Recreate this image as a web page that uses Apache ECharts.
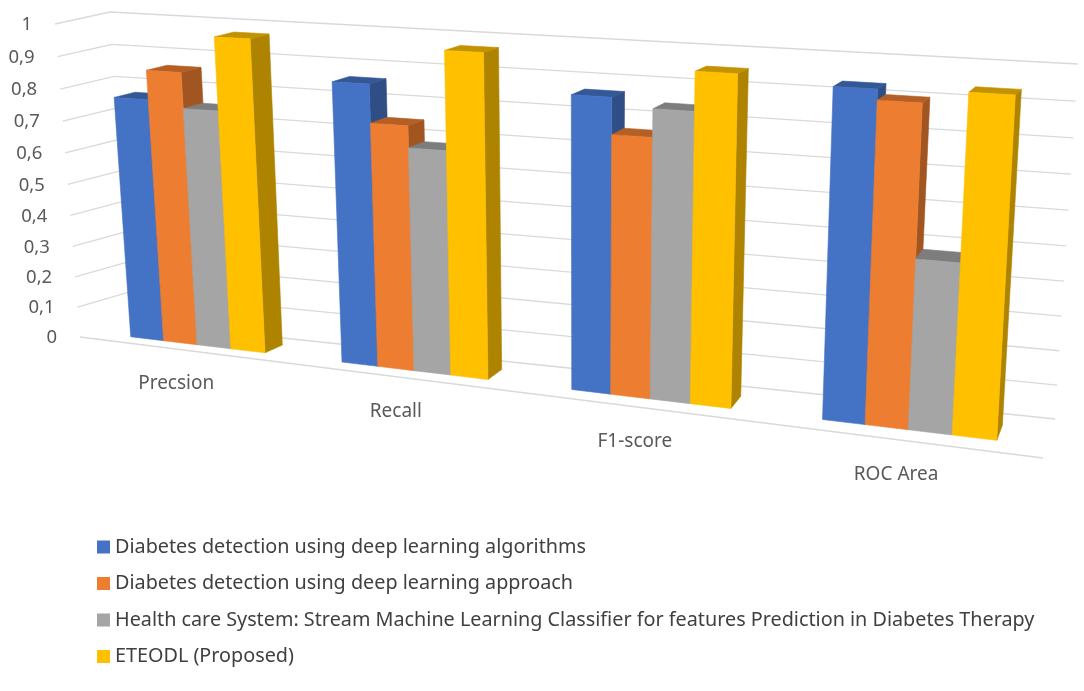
<!DOCTYPE html>
<html>
<head>
<meta charset="utf-8">
<title>Comparison of diabetes detection methods</title>
<script src="https://cdn.jsdelivr.net/npm/echarts@6/dist/echarts.min.js"></script>
<style>
  html, body { margin: 0; padding: 0; background: #fff; }
  #chart { width: 1084px; height: 691px; }
</style>
</head>
<body>
<div id="chart"></div>
<script>
// Data
const categories = ['Precsion', 'Recall', 'F1-score', 'ROC Area'];
const seriesNames = [
  'Diabetes detection using deep learning algorithms',
  'Diabetes detection using deep learning approach',
  'Health care System: Stream Machine Learning Classifier for features Prediction in Diabetes Therapy',
  'ETEODL (Proposed)'
];
const deepLearningAlgorithms = [0.77, 0.86, 0.865, 0.93];
const deepLearningApproach = [0.86, 0.745, 0.76, 0.90];
const streamMLClassifier = [0.75, 0.68, 0.84, 0.48];
const eteodlProposed = [0.973, 0.97, 0.95, 0.935];
const yTickLabels = ['0', '0,1', '0,2', '0,3', '0,4', '0,5', '0,6', '0,7', '0,8', '0,9', '1'];

const colors = ['#4472C4', '#ED7D31', '#A5A5A5', '#FFC000'];
const fontFamily = '"Noto Sans", "Open Sans", sans-serif';

// Where the corners of the 3-D plot box land on the page.
// key = x (0 left, 1 right) + y (0 floor, 1 top) + z (0 front, 1 back wall)
const boxCorners = {
  '000': [80, 337], '010': [55, 24], '001': [130, 322], '011': [110, 12],
  '100': [1043, 458], '110': [1065, 76], '101': [1055, 419], '111': [1078, 64]
};
const xWarp = 0.19;   // right side is nearer, so slots get wider
const yWarp = 0.05;
const barDepth = [0.3, 0.7];
const groupWidth = 0.645;

const warp = (t, c) => t / (1 + c * (1 - t));

function project(tx, ty, tz) {
  const u = warp(tx, xWarp), v = warp(ty, yWarp);
  let px = 0, py = 0;
  for (const a of [0, 1]) for (const b of [0, 1]) for (const c of [0, 1]) {
    const w = (a ? u : 1 - u) * (b ? v : 1 - v) * (c ? tz : 1 - tz);
    const p = boxCorners['' + a + b + c];
    px += w * p[0];
    py += w * p[1];
  }
  return [px, py];
}

// data value -> 0..1 box units, through the (hidden) cartesian axes
function unit(api, params, x, y) {
  const cs = params.coordSys;
  const pt = api.coord([x, y]);
  return [(pt[0] - cs.x) / cs.width, (cs.y + cs.height - pt[1]) / cs.height];
}

function shade(hex, f) {
  const n = parseInt(hex.slice(1), 16);
  const r = Math.round(((n >> 16) & 255) * f);
  const g = Math.round(((n >> 8) & 255) * f);
  const b = Math.round((n & 255) * f);
  return `rgb(${r},${g},${b})`;
}

const poly = (points, fill) => ({
  type: 'polygon',
  shape: { points },
  style: { fill, stroke: fill, lineWidth: 0.6 }
});

function makeBarSeries(name, values, s) {
  const base = colors[s];
  return {
    name,
    type: 'custom',
    coordinateSystem: 'cartesian2d',
    clip: false,
    z: 3,
    itemStyle: { color: base },
    data: values.map((v, i) => [i, v]),
    renderItem: (params, api) => {
      const i = api.value(0);
      const v = api.value(1);
      const w = groupWidth / seriesNames.length;
      const left = i + (1 - groupWidth) / 2 + s * w;
      const [x0, y0] = unit(api, params, left, 0);
      const [x1, y1] = unit(api, params, left + w, v);
      const [zf, zb] = barDepth;
      return {
        type: 'group',
        children: [
          poly([project(x1, y0, zf), project(x1, y1, zf), project(x1, y1, zb), project(x1, y0, zb)], shade(base, 0.68)),
          poly([project(x0, y1, zf), project(x1, y1, zf), project(x1, y1, zb), project(x0, y1, zb)], shade(base, 0.76)),
          poly([project(x0, y0, zf), project(x1, y0, zf), project(x1, y1, zf), project(x0, y1, zf)], base)
        ]
      };
    }
  };
}

function renderFrame(params, api) {
  const children = [];
  const line = (a, b) => children.push({
    type: 'line',
    shape: { x1: a[0], y1: a[1], x2: b[0], y2: b[1] },
    style: { stroke: '#D9D9D9', lineWidth: 1.3 }
  });
  yTickLabels.forEach((label, k) => {
    const ty = unit(api, params, 0, k / 10)[1];
    const front = project(0, ty, 0);
    line(project(0, ty, 1), project(1, ty, 1));
    if (k > 0) line(front, project(0, ty, 1));
    children.push({
      type: 'text',
      style: {
        text: label, x: front[0] - 23, y: front[1] + 1,
        align: 'right', verticalAlign: 'middle',
        fill: '#595959', fontSize: 18.5, fontFamily
      }
    });
  });
  line(project(0, 0, 0), project(1, 0, 0));
  categories.forEach((c, i) => {
    const tx = unit(api, params, i + 0.5, 0)[0];
    const p = project(tx, 0, 0);
    children.push({
      type: 'text',
      style: {
        text: c, x: p[0] - 7, y: p[1] + 34,
        align: 'center', verticalAlign: 'middle',
        fill: '#595959', fontSize: 19, fontFamily
      }
    });
  });
  return { type: 'group', children };
}

const chart = echarts.init(document.getElementById('chart'));
chart.setOption({
  animation: false,
  grid: { left: 0, top: 0, width: 400, height: 300 },
  xAxis: { type: 'value', min: 0, max: categories.length, show: false },
  yAxis: { type: 'value', min: 0, max: 1, interval: 0.1, show: false },
  legend: {
    data: seriesNames,
    orient: 'vertical',
    left: 97,
    top: 536,
    padding: 0,
    icon: 'rect',
    itemWidth: 13,
    itemHeight: 13,
    itemGap: 14.5,
    selectedMode: false,
    textStyle: { fontSize: 19.8, lineHeight: 22, color: '#404040', fontFamily }
  },
  series: [
    {
      name: 'frame',
      type: 'custom',
      coordinateSystem: 'cartesian2d',
      clip: false,
      silent: true,
      z: 1,
      data: [[0, 0]],
      renderItem: renderFrame
    },
    makeBarSeries(seriesNames[0], deepLearningAlgorithms, 0),
    makeBarSeries(seriesNames[1], deepLearningApproach, 1),
    makeBarSeries(seriesNames[2], streamMLClassifier, 2),
    makeBarSeries(seriesNames[3], eteodlProposed, 3)
  ]
});
</script>
</body>
</html>
